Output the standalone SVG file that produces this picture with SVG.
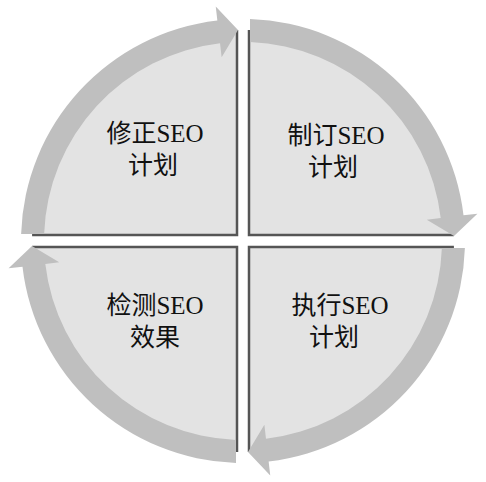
<svg xmlns="http://www.w3.org/2000/svg" width="486" height="482" viewBox="0 0 486 482">
<style>
.q{fill:#e3e3e3}
.edge{stroke:#555;stroke-width:2.5;fill:none}
.ring{fill:#bfbfbf}
.t{font-family:"Liberation Serif","Noto Sans CJK SC",serif;font-size:25px;fill:#111;text-anchor:middle}
</style>
<defs>
<path id="quad" d="M -6,-6 L -6,-210.9 A 211 211 0 0 0 -210.9,-6 Z"/>
<path id="edges" d="M -6,-210.9 L -6,-6 L -210.9,-6"/>
<path id="arrow" d="M -221.89,-7 A 222 222 0 0 1 -25.64,-220.5 L -27.26,-234.4 L -5,-211 L -21.37,-183.8 L -22.98,-197.7 A 199 199 0 0 0 -198.88,-7 Z"/>
</defs>
<rect width="486" height="482" fill="#fff"/>
<g id="node-revise">
<use href="#quad" class="q" transform="translate(243,241)"/>
<use href="#edges" class="edge" transform="translate(243,241)"/>
<text class="t" x="155" y="142">修正SEO</text>
<text class="t" x="153" y="174">计划</text>
</g>
<g id="node-plan">
<use href="#quad" class="q" transform="translate(243,241) rotate(90)"/>
<use href="#edges" class="edge" transform="translate(243,241) rotate(90)"/>
<text class="t" x="336" y="144">制订SEO</text>
<text class="t" x="333" y="176">计划</text>
</g>
<g id="node-execute">
<use href="#quad" class="q" transform="translate(243,241) rotate(180)"/>
<use href="#edges" class="edge" transform="translate(243,241) rotate(180)"/>
<text class="t" x="340" y="314">执行SEO</text>
<text class="t" x="334" y="346">计划</text>
</g>
<g id="node-check">
<use href="#quad" class="q" transform="translate(243,241) rotate(270)"/>
<use href="#edges" class="edge" transform="translate(243,241) rotate(270)"/>
<text class="t" x="155" y="314">检测SEO</text>
<text class="t" x="155" y="346">效果</text>
</g>
<g id="connectors">
<use href="#arrow" class="ring" transform="translate(243,241)"/>
<use href="#arrow" class="ring" transform="translate(243,241) rotate(90)"/>
<use href="#arrow" class="ring" transform="translate(243,241) rotate(180)"/>
<use href="#arrow" class="ring" transform="translate(243,241) rotate(270)"/>
</g>
</svg>
